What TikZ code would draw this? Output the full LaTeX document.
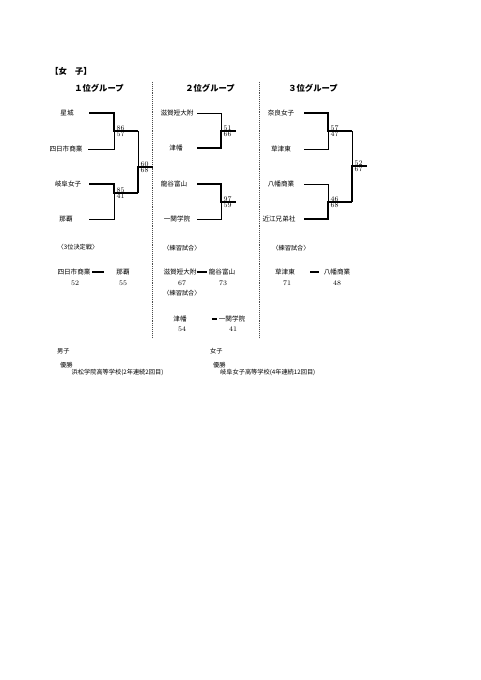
\documentclass[tikz,border=0pt]{standalone}
\usepackage{fontspec}
\newfontfamily\jp{Noto Sans CJK JP}
\usetikzlibrary{positioning}

\begin{document}
\begin{tikzpicture}[x=1pt,y=-1pt,
  team/.style={font=\jp\fontsize{6.6}{7}\selectfont,inner sep=0pt},
  head/.style={font=\jp\bfseries\fontsize{8.3}{9}\selectfont,inner sep=0pt},
  note/.style={font=\jp\fontsize{6.2}{7}\selectfont,inner sep=0pt},
  score/.style={font=\fontsize{7}{7}\selectfont,inner sep=.5pt},
  up/.style={score,anchor=south west,xshift=2pt},
  dn/.style={score,anchor=north west,xshift=2pt},
  win/.style={line width=1.4pt},
  lose/.style={line width=.5pt},
  sep/.style={densely dotted,line width=.9pt,black!70},
  vsbar/.style={line width=1.3pt}]
\useasboundingbox (0,0) rectangle (481,680);

% titles
\node[head] (title) at (71,71) {【女　子】};
\node[head] (h1) at (99,88) {１位グループ};
\node[head] (h2) at (210,88) {２位グループ};
\node[head] (h3) at (313,88) {３位グループ};
\draw[sep] (152.5,82) -- (152.5,338);
\draw[sep] (259.5,82) -- (259.5,338);

% 1位グループ
\node[team] (t11) at (67,113) {星城};
\node[team] (t12) at (66,149) {四日市商業};
\node[team] (t13) at (68,184) {岐阜女子};
\node[team] (t14) at (66,219) {那覇};
\coordinate (a11) at (89,113);
\coordinate (a12) at (88,149);
\coordinate (a13) at (89,184);
\coordinate (a14) at (89,219);
\coordinate (m1a) at (114,131);
\coordinate (m1b) at (114,193);
\coordinate (f1) at (138,167);
\coordinate (o1) at (152.5,167);
\draw[win] (a11) -| (m1a) -- (m1a -| f1);
\draw[lose] (a12) -| (m1a);
\draw[win] (a13) -| (m1b) -- (m1b -| f1);
\draw[lose] (a14) -| (m1b);
\draw[lose] (m1a -| f1) -- (f1);
\draw[win] (m1b -| f1) -- (f1) -- (o1);
\node[up] (s11) at (m1a) {86};
\node[dn] (s12) at (m1a) {57};
\node[up] (s13) at (m1b) {85};
\node[dn] (s14) at (m1b) {41};
\node[up] (s15) at (f1) {60};
\node[dn] (s16) at (f1) {68};

% 2位グループ
\node[team] (t21) at (177,113) {滋賀短大附};
\node[team] (t22) at (176,148) {津幡};
\node[team] (t23) at (174,184) {龍谷富山};
\node[team] (t24) at (177,219) {一関学院};
\coordinate (a21) at (197,113);
\coordinate (a22) at (197,148);
\coordinate (a23) at (197,184);
\coordinate (a24) at (197,219);
\coordinate (m2a) at (221,131);
\coordinate (m2b) at (221,202);
\draw[lose] (a21) -| (m2a);
\draw[win] (a22) -| (m2a) -- ++(15,0);
\draw[win] (a23) -| (m2b) -- ++(15,0);
\draw[lose] (a24) -| (m2b);
\node[up] (s21) at (m2a) {51};
\node[dn] (s22) at (m2a) {66};
\node[up] (s23) at (m2b) {97};
\node[dn] (s24) at (m2b) {59};

% 3位グループ
\node[team] (t31) at (281,113) {奈良女子};
\node[team] (t32) at (281,149) {草津東};
\node[team] (t33) at (281,184) {八幡商業};
\node[team] (t34) at (279,219) {近江兄弟社};
\coordinate (a31) at (304,113);
\coordinate (a32) at (304,149);
\coordinate (a33) at (304,184);
\coordinate (a34) at (304,219);
\coordinate (m3a) at (328,131);
\coordinate (m3b) at (328,202);
\coordinate (f3) at (352,166);
\coordinate (o3) at (366.5,166);
\draw[win] (a31) -| (m3a) -- (m3a -| f3);
\draw[lose] (a32) -| (m3a);
\draw[lose] (a33) -| (m3b);
\draw[win] (a34) -| (m3b) -- (m3b -| f3);
\draw[lose] (m3a -| f3) -- (f3);
\draw[win] (m3b -| f3) -- (f3) -- (o3);
\node[up] (s31) at (m3a) {57};
\node[dn] (s32) at (m3a) {47};
\node[up] (s33) at (m3b) {46};
\node[dn] (s34) at (m3b) {68};
\node[up] (s35) at (f3) {52};
\node[dn] (s36) at (f3) {67};

% 3位決定戦・練習試合
\node[note] (k1) at (78,247) {〈3位決定戦〉};
\node[team] (q11) at (74,272) {四日市商業};
\node[team] (q12) at (123,272) {那覇};
\draw[vsbar,shorten <=1.5pt,shorten >=12pt] (q11.east) -- (q12.west);
\node[score] (r11) at (75,283.5) {52};
\node[score] (r12) at (123,283.5) {55};

\node[note] (k2) at (182,248) {〈練習試合〉};
\node[team] (q21) at (180,272) {滋賀短大附};
\node[team] (q22) at (222,272) {龍谷富山};
\draw[vsbar,shorten >=2pt] (q21.east) -- (q22.west);
\node[score] (r21) at (182,283.5) {67};
\node[score] (r22) at (223,283.5) {73};

\node[note] (k3) at (182,293.5) {〈練習試合〉};
\node[team] (q31) at (180,319) {津幡};
\node[team] (q32) at (232,319) {一関学院};
\draw[vsbar,shorten <=25pt,shorten >=1.7pt] (q31.east) -- (q32.west);
\node[score] (r31) at (182,329.5) {54};
\node[score] (r32) at (233,329.5) {41};

\node[note] (k4) at (291,248) {〈練習試合〉};
\node[team] (q41) at (285,272) {草津東};
\node[team] (q42) at (337,272) {八幡商業};
\draw[vsbar,shorten <=15pt,shorten >=5pt] (q41.east) -- (q42.west);
\node[score] (r41) at (287,283.5) {71};
\node[score] (r42) at (337,283.5) {48};

% 優勝
\node[note,anchor=west] (boys) at (57,351.5) {男子};
\node[note,anchor=west] (v1) at (60,365) {優勝};
\node[note,anchor=west] (c1) at (71.5,372) {浜松学院高等学校(2年連続2回目)};
\node[note,anchor=west] (girls) at (210,351.5) {女子};
\node[note,anchor=west] (v2) at (213,365) {優勝};
\node[note,anchor=west] (c2) at (220,372) {岐阜女子高等学校(4年連続12回目)};
\end{tikzpicture}
\end{document}
